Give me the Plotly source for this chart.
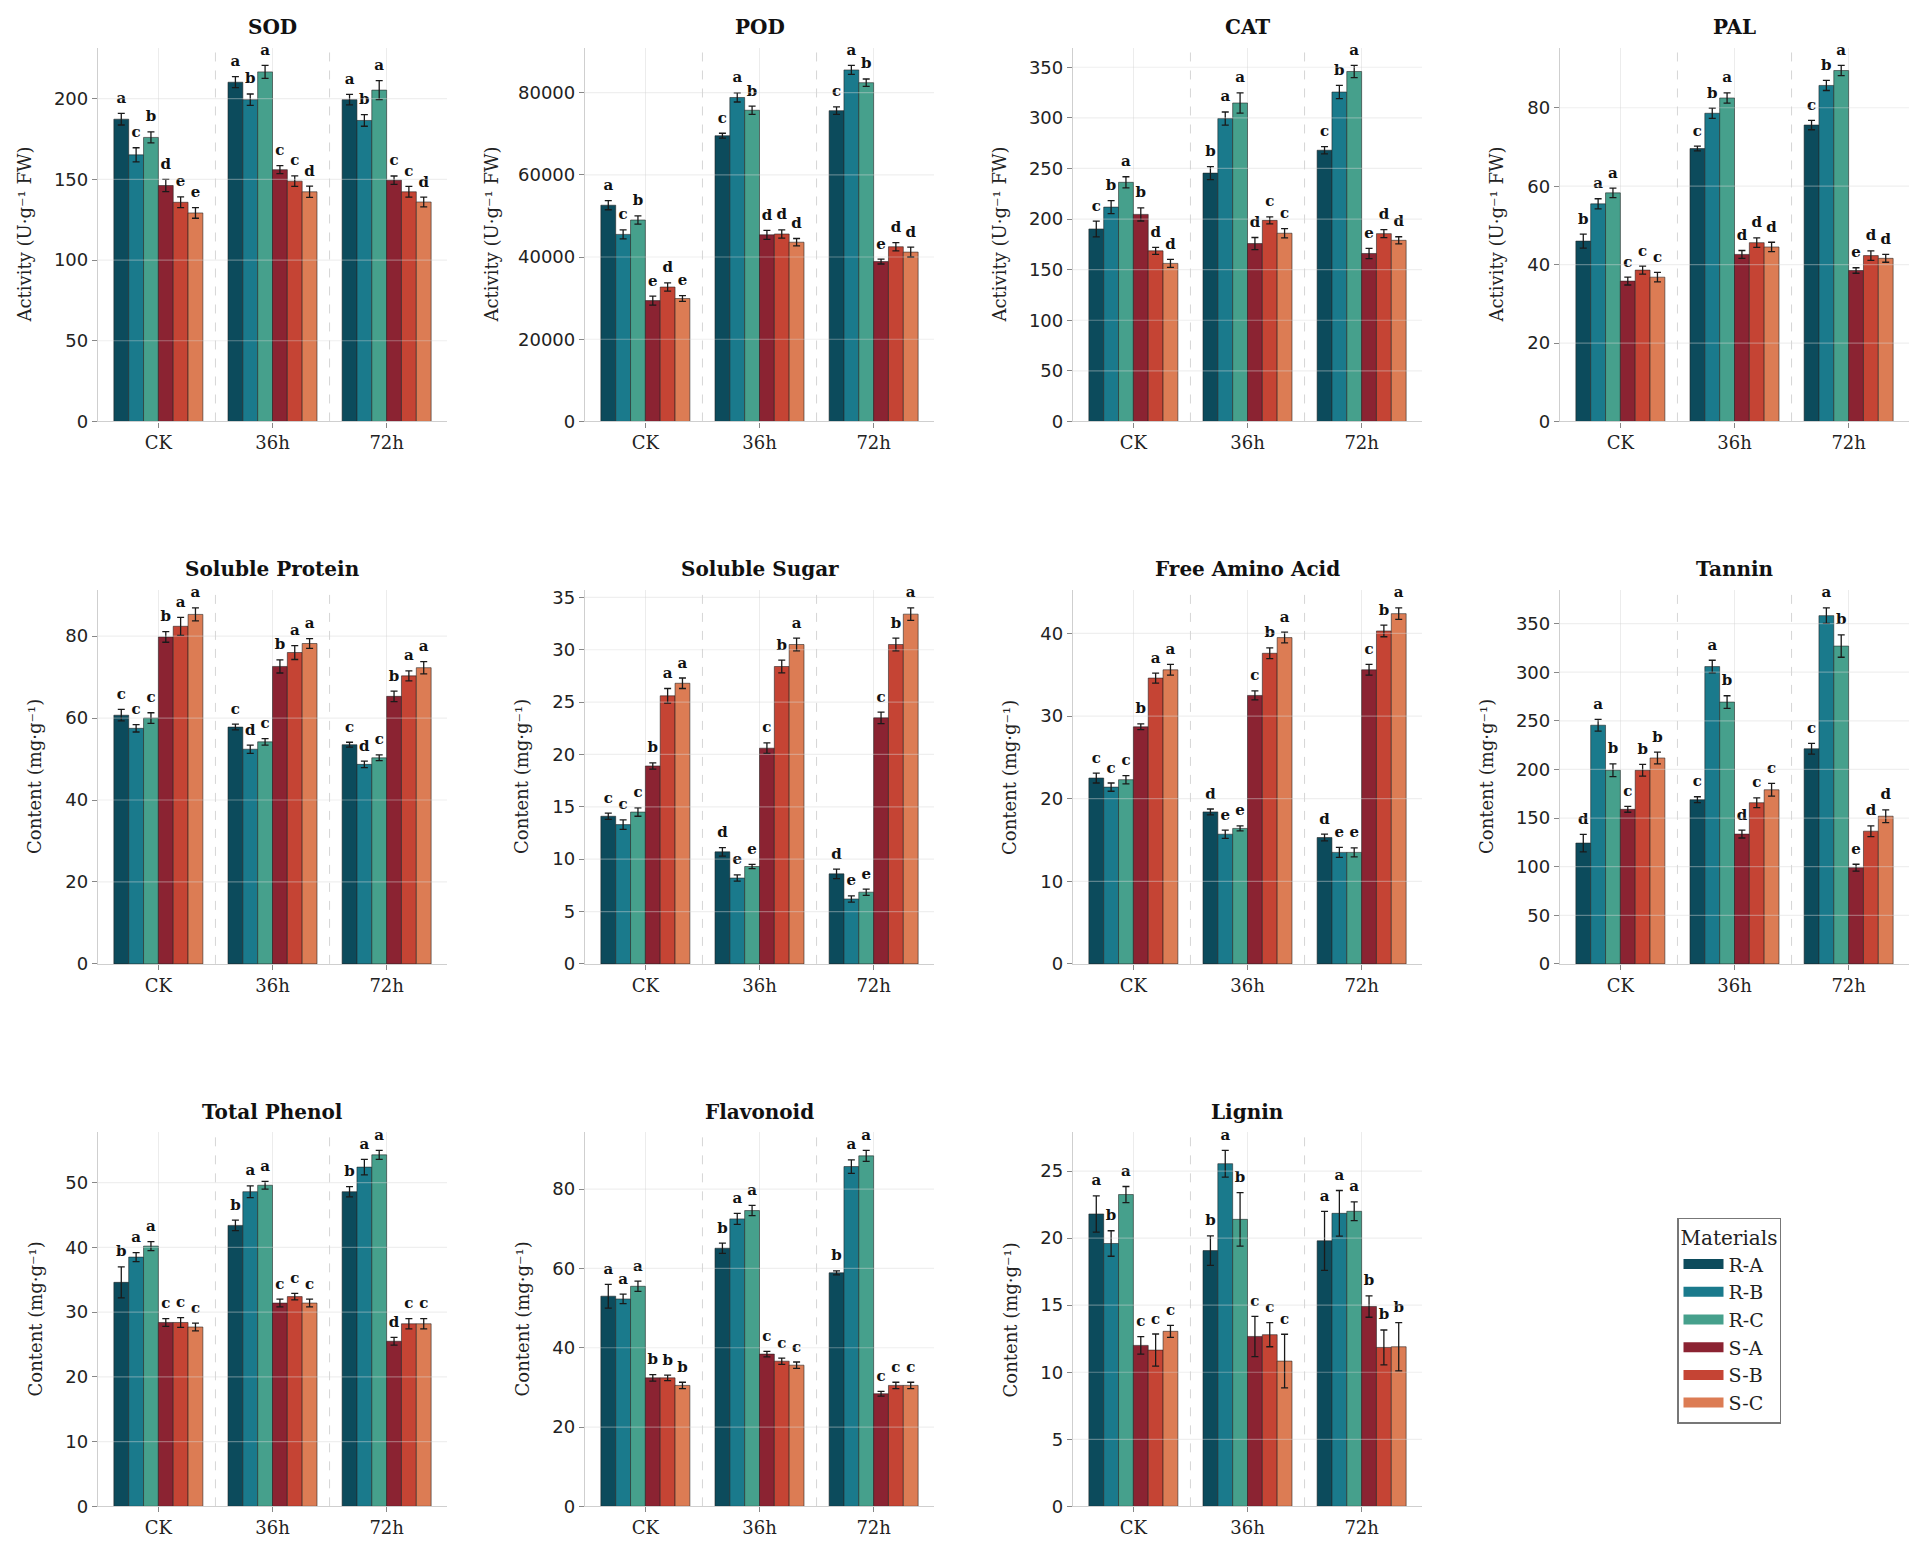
import plotly.graph_objects as go
from plotly.subplots import make_subplots

groups = ["CK", "36h", "72h"]
materials = ["R-A", "R-B", "R-C", "S-A", "S-B", "S-C"]
colors = ["#0c4b5c", "#1a7a8c", "#46a08c", "#8b2332", "#c54434", "#dc7c54"]

titles = ["SOD", "POD", "CAT", "PAL", "Soluble Protein", "Soluble Sugar",
          "Free Amino Acid", "Tannin", "Total Phenol", "Flavonoid", "Lignin"]
ylabels = ["Activity (U·g⁻¹ FW)"] * 4 + ["Content (mg·g⁻¹)"] * 7
dticks = [50, 20000, 50, 20, 20, 5, 10, 50, 10, 20, 5]

# rows = materials (R-A .. S-C), columns = CK, 36h, 72h
sod_mean = [[187.3, 210.2, 199.4], [165.2, 199.4, 186.5], [176.0, 216.6, 205.3],
            [146.2, 156.0, 149.5], [135.8, 148.9, 142.3], [129.2, 142.3, 136.0]]
sod_sd = [[3.6, 3.4, 3.3], [4.4, 3.5, 3.6], [3.4, 4.0, 5.9],
          [3.8, 2.5, 2.6], [3.3, 3.3, 3.3], [3.3, 3.5, 3.0]]
sod_let = [["a", "a", "a"], ["c", "b", "b"], ["b", "a", "a"],
           ["d", "c", "c"], ["e", "c", "c"], ["e", "d", "d"]]

pod_mean = [[52600, 69500, 75600], [45500, 78800, 85500], [49000, 75700, 82400],
            [29400, 45400, 38900], [32700, 45600, 42500], [29900, 43600, 41200]]
pod_sd = [[1100, 600, 900], [1100, 1100, 1100], [1000, 1000, 900],
          [1100, 1100, 600], [1000, 1000, 1000], [700, 900, 1200]]
pod_let = [["a", "c", "c"], ["c", "a", "a"], ["b", "b", "b"],
           ["e", "d", "e"], ["d", "d", "d"], ["e", "d", "d"]]

cat_mean = [[190.2, 245.4, 268.0], [211.8, 299.3, 325.5], [236.3, 314.7, 345.8],
            [204.6, 175.8, 166.0], [168.6, 198.7, 185.6], [156.2, 186.0, 179.0]]
cat_sd = [[7.8, 6.5, 3.5], [6.5, 6.5, 6.5], [5.5, 10.0, 6.0],
          [6.5, 6.0, 5.0], [3.5, 3.5, 4.0], [4.0, 4.5, 3.5]]
cat_let = [["c", "b", "c"], ["b", "a", "b"], ["a", "a", "a"],
           ["b", "d", "e"], ["d", "c", "d"], ["d", "c", "d"]]

pal_mean = [[46.0, 69.6, 75.6], [55.5, 78.6, 85.7], [58.3, 82.5, 89.5],
            [35.8, 42.6, 38.5], [38.6, 45.6, 42.3], [36.8, 44.5, 41.6]]
pal_sd = [[1.8, 0.6, 1.2], [1.3, 1.3, 1.3], [1.2, 1.3, 1.3],
          [1.0, 1.0, 0.7], [1.0, 1.2, 1.2], [1.2, 1.2, 1.0]]
pal_let = [["b", "c", "c"], ["a", "b", "b"], ["a", "a", "a"],
           ["c", "d", "e"], ["c", "d", "d"], ["c", "d", "d"]]

prot_mean = [[60.7, 57.8, 53.5], [57.5, 52.4, 48.7], [60.0, 54.2, 50.3],
             [79.8, 72.6, 65.3], [82.4, 76.0, 70.3], [85.3, 78.2, 72.3]]
prot_sd = [[1.4, 0.7, 0.6], [0.9, 1.0, 0.8], [1.3, 0.8, 0.7],
           [1.3, 1.6, 1.3], [2.2, 1.7, 1.2], [1.6, 1.2, 1.5]]
prot_let = [["c", "c", "c"], ["c", "d", "d"], ["c", "c", "c"],
            ["b", "b", "b"], ["a", "a", "a"], ["a", "a", "a"]]

sugar_mean = [[14.1, 10.7, 8.6], [13.3, 8.2, 6.2], [14.5, 9.3, 6.85],
              [18.9, 20.6, 23.5], [25.6, 28.4, 30.5], [26.8, 30.5, 33.4]]
sugar_sd = [[0.3, 0.4, 0.45], [0.45, 0.3, 0.3], [0.4, 0.2, 0.3],
            [0.3, 0.5, 0.55], [0.7, 0.6, 0.6], [0.5, 0.6, 0.6]]
sugar_let = [["c", "d", "d"], ["c", "e", "e"], ["c", "e", "e"],
             ["b", "c", "c"], ["a", "b", "b"], ["a", "a", "a"]]

faa_mean = [[22.5, 18.4, 15.3], [21.4, 15.7, 13.5], [22.3, 16.4, 13.5],
            [28.7, 32.5, 35.6], [34.6, 37.6, 40.3], [35.6, 39.5, 42.4]]
faa_sd = [[0.6, 0.35, 0.4], [0.5, 0.5, 0.6], [0.5, 0.3, 0.55],
          [0.35, 0.55, 0.65], [0.6, 0.65, 0.7], [0.65, 0.65, 0.7]]
faa_let = [["c", "d", "d"], ["c", "e", "e"], ["c", "e", "e"],
           ["b", "c", "c"], ["a", "b", "b"], ["a", "a", "a"]]

tannin_mean = [[124.3, 168.9, 221.3], [245.5, 305.8, 358.2], [199.2, 269.3, 326.9],
               [159.0, 133.5, 99.0], [199.2, 165.8, 136.5], [211.8, 179.1, 151.9]]
tannin_sd = [[9.0, 3.0, 5.5], [6.0, 6.5, 8.0], [6.5, 6.5, 11.5],
             [3.0, 4.0, 3.5], [6.0, 5.0, 5.5], [6.0, 6.5, 6.5]]
tannin_let = [["d", "c", "c"], ["a", "a", "a"], ["b", "b", "b"],
              ["c", "d", "e"], ["b", "c", "d"], ["b", "c", "d"]]

phenol_mean = [[34.6, 43.4, 48.6], [38.5, 48.6, 52.4], [40.2, 49.6, 54.3],
               [28.4, 31.4, 25.5], [28.4, 32.4, 28.2], [27.7, 31.4, 28.2]]
phenol_sd = [[2.4, 0.8, 0.8], [0.7, 0.9, 1.2], [0.7, 0.6, 0.7],
             [0.6, 0.6, 0.6], [0.75, 0.5, 0.8], [0.6, 0.6, 0.8]]
phenol_let = [["b", "b", "b"], ["a", "a", "a"], ["a", "a", "a"],
              ["c", "c", "d"], ["c", "c", "c"], ["c", "c", "c"]]

flav_mean = [[53.0, 65.1, 58.9], [52.3, 72.5, 85.7], [55.5, 74.6, 88.4],
             [32.4, 38.4, 28.4], [32.4, 36.6, 30.5], [30.5, 35.6, 30.5]]
flav_sd = [[3.0, 1.3, 0.5], [1.2, 1.4, 1.7], [1.3, 1.3, 1.4],
           [0.8, 0.7, 0.6], [0.7, 0.8, 0.8], [0.8, 0.8, 0.8]]
flav_let = [["a", "b", "b"], ["a", "a", "a"], ["a", "a", "a"],
            ["b", "c", "c"], ["b", "c", "c"], ["b", "c", "c"]]

lignin_mean = [[21.8, 19.07, 19.8], [19.6, 25.55, 21.85], [23.25, 21.4, 22.0],
               [12.0, 12.67, 14.9], [11.65, 12.8, 11.85], [13.05, 10.83, 11.9]]
lignin_sd = [[1.35, 1.1, 2.2], [0.95, 1.0, 1.7], [0.6, 2.0, 0.7],
             [0.65, 1.5, 0.8], [1.2, 0.9, 1.3], [0.45, 2.0, 1.8]]
lignin_let = [["a", "b", "a"], ["b", "a", "a"], ["a", "b", "a"],
              ["c", "c", "b"], ["c", "c", "b"], ["c", "c", "b"]]

panels = [
    (sod_mean, sod_sd, sod_let), (pod_mean, pod_sd, pod_let),
    (cat_mean, cat_sd, cat_let), (pal_mean, pal_sd, pal_let),
    (prot_mean, prot_sd, prot_let), (sugar_mean, sugar_sd, sugar_let),
    (faa_mean, faa_sd, faa_let), (tannin_mean, tannin_sd, tannin_let),
    (phenol_mean, phenol_sd, phenol_let), (flav_mean, flav_sd, flav_let),
    (lignin_mean, lignin_sd, lignin_let),
]

W, H = 1925, 1556
col_left = [98, 585, 1073, 1560]
plot_w = 349
row_top = [45, 592, 1139]
plot_h = 377
bar_w = 0.13
SERIF = "DejaVu Serif"
SANS = "DejaVu Sans"

fig = make_subplots(rows=3, cols=4)
shapes = []
annotations = []


def ax_id(n):
    return "" if n == 1 else str(n)


for k, (means, sds, lets) in enumerate(panels):
    r, c = divmod(k, 4)
    n = k + 1
    a = ax_id(n)
    ymax = 1.05 * max(m + s for row_m, row_s in zip(means, sds) for m, s in zip(row_m, row_s))
    for j, mat in enumerate(materials):
        xs = [i + (j - 2.5) * bar_w for i in range(len(groups))]
        fig.add_trace(go.Bar(
            x=xs, y=means[j], width=bar_w, name=mat,
            marker=dict(color=colors[j], line=dict(color="rgba(30,30,30,0.7)", width=0.8)),
            error_y=dict(type="data", array=sds[j], color="#1a1a1a", thickness=1.3, width=3.5),
            showlegend=False,
        ), row=r + 1, col=c + 1)
        # letters sit a little above the error bar caps
        tops = [m + s + 0.018 * ymax for m, s in zip(means[j], sds[j])]
        fig.add_trace(go.Scatter(
            x=xs, y=tops, mode="text", text=["<b>%s</b>" % t for t in lets[j]],
            textposition="top center", textfont=dict(family=SERIF, size=15, color="#111"),
            showlegend=False, hoverinfo="skip", cliponaxis=False,
        ), row=r + 1, col=c + 1)

    x0 = -2.5 * bar_w - bar_w / 2
    x1 = len(groups) - 1 + 2.5 * bar_w + bar_w / 2
    pad = 0.05 * (x1 - x0)
    left, top = col_left[c], row_top[r]
    xdom = [left / W, (left + plot_w) / W]
    ydom = [1 - (top + plot_h) / H, 1 - top / H]
    fig.update_layout({
        "xaxis" + a: dict(
            domain=xdom, range=[x0 - pad, x1 + pad], tickvals=list(range(len(groups))),
            ticktext=groups, showgrid=True, gridcolor="#ececec", gridwidth=1,
            showline=True, linecolor="#cfcfcf", linewidth=1.3, ticks="outside",
            ticklen=5, tickcolor="#888", zeroline=False,
            tickfont=dict(family=SERIF, size=18, color="#222"),
        ),
        "yaxis" + a: dict(
            domain=ydom, range=[0, ymax], dtick=dticks[k], tick0=0, showgrid=False,
            showline=True, linecolor="#cfcfcf", linewidth=1.3, ticks="outside",
            ticklen=5, tickcolor="#888", zeroline=False, tickformat="d",
            tickfont=dict(family=SANS, size=18, color="#222"),
        ),
    })
    # horizontal grid drawn over the bars
    t = dticks[k]
    while t < ymax:
        shapes.append(dict(type="line", xref="x%s domain" % a, yref="y" + a,
                           x0=0, x1=1, y0=t, y1=t, layer="above",
                           line=dict(color="rgba(215,215,215,0.4)", width=1.2)))
        t += dticks[k]
    # dashed group separators
    for b in [i + 0.5 for i in range(len(groups) - 1)]:
        shapes.append(dict(type="line", xref="x" + a, yref="y%s domain" % a,
                           x0=b, x1=b, y0=0, y1=1, layer="below",
                           line=dict(color="#d6d6d6", width=1, dash="dash")))
    # panel title
    annotations.append(dict(text="<b>%s</b>" % titles[k], xref="paper", yref="paper",
                            x=(left + plot_w / 2) / W, y=1 - (top - 21) / H,
                            xanchor="center", yanchor="middle", showarrow=False,
                            font=dict(family=SERIF, size=20, color="#111")))
    # y axis title, placed clear of the tick labels
    ndig = len(str(int((ymax // dticks[k]) * dticks[k])))
    annotations.append(dict(text=ylabels[k], xref="paper", yref="paper",
                            x=(left - 43 - 10 * ndig) / W, y=1 - (top + plot_h / 2) / H,
                            xanchor="center", yanchor="middle", textangle=-90,
                            showarrow=False, font=dict(family=SERIF, size=18, color="#222")))

# legend entries: thick line swatches look like the wide patches of the original
for j, mat in enumerate(materials):
    fig.add_trace(go.Scatter(x=[None], y=[None], mode="lines", name=mat,
                             line=dict(color=colors[j], width=14), showlegend=True),
                  row=1, col=1)

fig.update_layout(xaxis12=dict(visible=False), yaxis12=dict(visible=False))

fig.update_layout(
    width=W, height=H, barmode="overlay",
    margin=dict(l=0, r=0, t=0, b=0),
    paper_bgcolor="white", plot_bgcolor="white",
    shapes=shapes, annotations=annotations,
    legend=dict(
        x=1677 / W, y=1 - 1225 / H, xanchor="left", yanchor="top",
        title=dict(text="Materials", side="top center", font=dict(family=SERIF, size=20, color="#222")),
        font=dict(family=SERIF, size=19, color="#222"),
        bordercolor="#777", borderwidth=1.5, bgcolor="white",
        tracegroupgap=0, itemwidth=40,
    ),
)

fig.write_html("out.html", config={"displayModeBar": False},
               post_script="document.body.style.margin='0px';")
